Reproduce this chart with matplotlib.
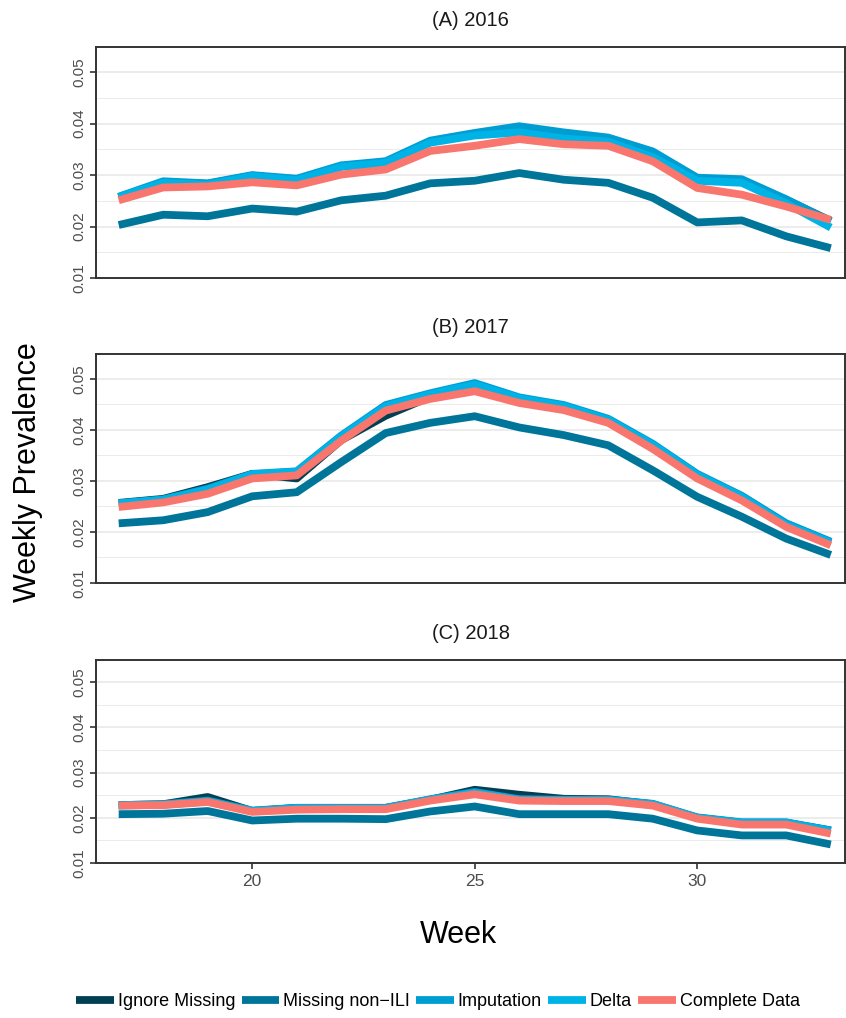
import matplotlib
matplotlib.use("Agg")
import matplotlib.pyplot as plt
from matplotlib.ticker import MultipleLocator

plt.rcParams['font.family'] = ['Liberation Sans', 'DejaVu Sans']

weeks = list(range(17, 34))

methods = ["Ignore Missing", "Missing non\u2212ILI", "Imputation", "Delta", "Complete Data"]
colors = ["#023f52", "#00759a", "#009dd3", "#00b3e6", "#f8766d"]

# 2016
ignore_2016 = [0.0257, 0.0286, 0.0283, 0.0299, 0.0291, 0.0317, 0.0325, 0.0365, 0.0379, 0.0392, 0.0375, 0.0369, 0.0340, 0.0293, 0.0290, 0.0252, 0.0211]
nonili_2016 = [0.0203, 0.0223, 0.0220, 0.0235, 0.0229, 0.0251, 0.0260, 0.0284, 0.0289, 0.0304, 0.0291, 0.0285, 0.0256, 0.0208, 0.0212, 0.0181, 0.0158]
imput_2016 = [0.0258, 0.0288, 0.0284, 0.0300, 0.0293, 0.0319, 0.0327, 0.0367, 0.0382, 0.0395, 0.0383, 0.0373, 0.0346, 0.0295, 0.0292, 0.0253, 0.0210]
delta_2016 = [0.0257, 0.0285, 0.0281, 0.0298, 0.0290, 0.0316, 0.0324, 0.0363, 0.0377, 0.0383, 0.0371, 0.0365, 0.0335, 0.0289, 0.0285, 0.0245, 0.0198]
complete_2016 = [0.0251, 0.0276, 0.0278, 0.0286, 0.0280, 0.0301, 0.0311, 0.0347, 0.0357, 0.0370, 0.0360, 0.0357, 0.0327, 0.0275, 0.0262, 0.0239, 0.0213]

# 2017
ignore_2017 = [0.0257, 0.0265, 0.0288, 0.0314, 0.0305, 0.0380, 0.0428, 0.0465, 0.0488, 0.0460, 0.0446, 0.0419, 0.0370, 0.0312, 0.0270, 0.0216, 0.0180]
nonili_2017 = [0.0217, 0.0223, 0.0239, 0.0270, 0.0278, 0.0337, 0.0394, 0.0414, 0.0427, 0.0405, 0.0390, 0.0370, 0.0321, 0.0269, 0.0230, 0.0187, 0.0155]
imput_2017 = [0.0256, 0.0264, 0.0285, 0.0314, 0.0319, 0.0389, 0.0449, 0.0472, 0.0492, 0.0464, 0.0449, 0.0422, 0.0373, 0.0314, 0.0271, 0.0217, 0.0181]
delta_2017 = [0.0256, 0.0263, 0.0283, 0.0313, 0.0318, 0.0387, 0.0446, 0.0470, 0.0489, 0.0462, 0.0447, 0.0420, 0.0371, 0.0312, 0.0269, 0.0214, 0.0179]
complete_2017 = [0.0249, 0.0258, 0.0275, 0.0305, 0.0311, 0.0379, 0.0438, 0.0461, 0.0476, 0.0453, 0.0439, 0.0414, 0.0363, 0.0305, 0.0262, 0.0210, 0.0174]

# 2018
ignore_2018 = [0.0228, 0.0230, 0.0246, 0.0215, 0.0222, 0.0222, 0.0222, 0.0240, 0.0262, 0.0251, 0.0242, 0.0241, 0.0230, 0.0200, 0.0189, 0.0189, 0.0172]
nonili_2018 = [0.0208, 0.0209, 0.0215, 0.0194, 0.0198, 0.0198, 0.0197, 0.0214, 0.0225, 0.0208, 0.0208, 0.0208, 0.0198, 0.0172, 0.0161, 0.0161, 0.0141]
imput_2018 = [0.0228, 0.0230, 0.0238, 0.0216, 0.0222, 0.0222, 0.0222, 0.0241, 0.0257, 0.0241, 0.0240, 0.0240, 0.0231, 0.0201, 0.0190, 0.0190, 0.0172]
delta_2018 = [0.0227, 0.0229, 0.0236, 0.0215, 0.0221, 0.0221, 0.0221, 0.0240, 0.0255, 0.0240, 0.0239, 0.0239, 0.0230, 0.0200, 0.0189, 0.0189, 0.0171]
complete_2018 = [0.0227, 0.0228, 0.0235, 0.0213, 0.0218, 0.0219, 0.0219, 0.0238, 0.0252, 0.0238, 0.0237, 0.0237, 0.0227, 0.0198, 0.0185, 0.0185, 0.0165]

panels = [
    ("(A) 2016", [ignore_2016, nonili_2016, imput_2016, delta_2016, complete_2016]),
    ("(B) 2017", [ignore_2017, nonili_2017, imput_2017, delta_2017, complete_2017]),
    ("(C) 2018", [ignore_2018, nonili_2018, imput_2018, delta_2018, complete_2018]),
]
ytick_vals = [0.01, 0.02, 0.03, 0.04, 0.05]
ytick_labels = ["0.01", "0.02", "0.03", "0.04", "0.05"]

W, H = 846, 1018
fig = plt.figure(figsize=(W / 100, H / 100), dpi=100)

# panel boxes in pixels: (top, bottom)
boxes = [(47, 278), (354, 583), (660, 863)]
left_px, right_px = 96, 845

for i, ((title, series), (top, bot)) in enumerate(zip(panels, boxes)):
    ax = fig.add_axes([left_px / W, 1 - bot / H, (right_px - left_px) / W, (bot - top) / H])
    for vals, name, c in zip(series, methods, colors):
        ax.plot(weeks, vals, color=c, lw=5.6, label=name,
                solid_capstyle='butt', solid_joinstyle='round')
    ax.set_xlim(16.49, 33.32)
    ax.set_ylim(0.01, 0.0549)
    ax.yaxis.set_minor_locator(MultipleLocator(0.005))
    ax.grid(axis='y', which='major', color='#ebebeb', lw=1.3, zorder=0)
    ax.grid(axis='y', which='minor', color='#ebebeb', lw=0.7, zorder=0)
    ax.set_axisbelow(True)
    for s in ax.spines.values():
        s.set_color('#333333')
        s.set_linewidth(1.4)
    ax.set_yticks(ytick_vals)
    ax.set_yticklabels(ytick_labels, rotation=90, va='center')
    ax.tick_params(axis='y', which='major', length=4, width=1.2, color='#333333',
                   labelsize=11, labelcolor='#4d4d4d', pad=3)
    ax.tick_params(axis='y', which='minor', length=0)
    if i < 2:
        ax.tick_params(axis='x', bottom=False, labelbottom=False)
    else:
        ax.set_xticks([20, 25, 30])
        ax.tick_params(axis='x', length=4, width=1.2, color='#333333',
                       labelsize=12.5, labelcolor='#4d4d4d', pad=4)
    ax.set_title(title, fontsize=14.5, color='#1a1a1a', pad=15)

fig.text(458 / W, 1 - 935 / H, "Week", fontsize=22, ha='center', va='center')
fig.text(28 / W, 1 - 472 / H, "Weekly Prevalence", fontsize=22, rotation=90,
         ha='center', va='center')

handles, labels = ax.get_legend_handles_labels()
fig.legend(handles, labels, loc='center', bbox_to_anchor=(438 / W, 1 - 1002 / H),
           ncol=5, frameon=False, fontsize=13, handlelength=2.1, handletextpad=0.2,
           columnspacing=0.35, borderpad=0)

fig.savefig("out.png", dpi=100)
